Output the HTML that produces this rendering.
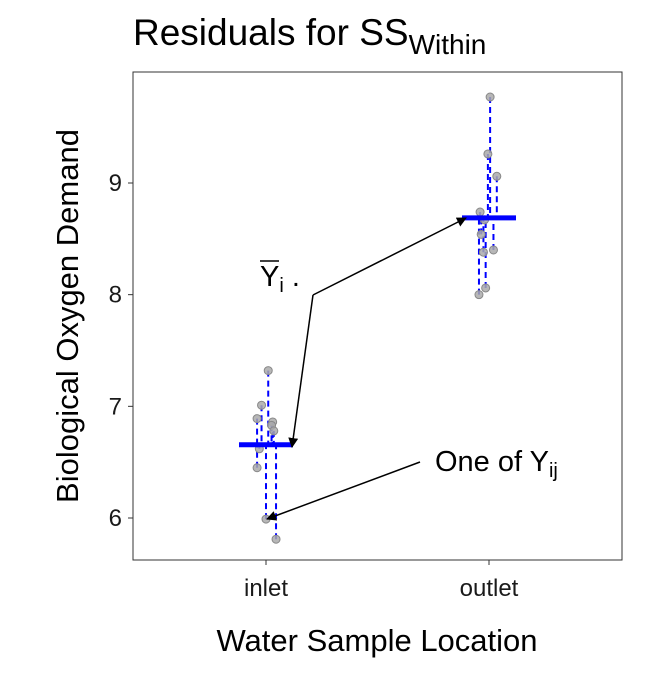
<!DOCTYPE html>
<html><head><meta charset="utf-8"><style>
body{margin:0;background:#fff}
svg{font-family:"Liberation Sans",sans-serif}
</style></head><body>
<svg id="chart" width="672" height="672">
<text x="133" y="45" font-size="37" fill="#000">Residuals for SS<tspan font-size="28" dy="9">Within</tspan></text>
<rect x="133" y="72" width="489" height="488" fill="none" stroke="#333" stroke-width="1"/>
<g id="marks"></g>
<g id="axes"></g>
<text transform="translate(78,316) rotate(-90)" text-anchor="middle" font-size="31">Biological Oxygen Demand</text>
<text x="377" y="651" text-anchor="middle" font-size="31">Water Sample Location</text>
<defs><marker id="ah" markerWidth="10" markerHeight="10" refX="9" refY="5" orient="auto" markerUnits="userSpaceOnUse"><path d="M0,0 L10,5 L0,10 z" fill="#000"/></marker></defs>
<polyline points="313,295 292,447" fill="none" stroke="#000" stroke-width="1.5" marker-end="url(#ah)"/>
<polyline points="313,295 466,218" fill="none" stroke="#000" stroke-width="1.5" marker-end="url(#ah)"/>
<polyline points="420,462 267,519" fill="none" stroke="#000" stroke-width="1.5" marker-end="url(#ah)"/>
<g>
<text x="260" y="286" font-size="29">Y<tspan font-size="20" dy="6">i</tspan><tspan dy="-6"> .</tspan></text>
<line x1="260" y1="261" x2="279" y2="261" stroke="#000" stroke-width="1.5"/>
</g>
<text x="435" y="471" font-size="29">One of Y<tspan font-size="20" dy="6">ij</tspan></text>
</svg>
<script>
const categories = ["inlet","outlet"];
const inletValues = [7.32,7.01,6.89,6.86,6.83,6.78,6.62,6.45,5.99,5.81];
const outletValues = [9.77,9.26,9.06,8.74,8.67,8.54,8.38,8.40,8.06,8.00];
const inletJitter = [0.01,-0.02,-0.04,0.03,0.025,0.035,-0.03,-0.04,0,0.045];
const outletJitter = [0.005,-0.005,0.035,-0.04,-0.02,-0.035,-0.025,0.02,-0.015,-0.045];
const yTicks = [6,7,8,9];
const ns="http://www.w3.org/2000/svg";
const y = v => 518 - (v-6)*111.67;
const x = i => 266 + i*223;
const bandPx = 223;
const marks=document.getElementById('marks'), axes=document.getElementById('axes');
function mk(tag,attrs,parent){const e=document.createElementNS(ns,tag);for(const k in attrs)e.setAttribute(k,attrs[k]);parent.appendChild(e);return e;}
[inletValues,outletValues].forEach((vals,ci)=>{
  const jit = ci===0?inletJitter:outletJitter;
  const mean = vals.reduce((a,b)=>a+b,0)/vals.length;
  vals.forEach((v,j)=>{
    const px = x(ci)+jit[j]*bandPx;
    const l = mk('line',{x1:px,x2:px,y1:y(v),y2:y(mean),stroke:'#0000ff','stroke-width':2,'stroke-dasharray':'6,4'},marks);
    
    
  });
  vals.forEach((v,j)=>{
    const px = x(ci)+jit[j]*bandPx;
    const c = mk('circle',{cx:px,cy:y(v),r:4,fill:'#aaa','fill-opacity':0.85,stroke:'#888','stroke-width':1},marks);
    
    
  });
  const m = mk('line',{x1:x(ci)-27,x2:x(ci)+27,y1:y(mean),y2:y(mean),stroke:'#0000ff','stroke-width':5},marks);
  
  
});
yTicks.forEach(t=>{
  const tk=mk('line',{x1:128,x2:133,y1:y(t),y2:y(t),stroke:'#333'},axes);
  
  
  const tl=mk('text',{x:122,y:y(t)+8,'text-anchor':'end','font-size':24,fill:'#1a1a1a'},axes);
  tl.textContent=t;
  
  
});
categories.forEach((c,i)=>{
  const tk=mk('line',{x1:x(i),x2:x(i),y1:560,y2:565,stroke:'#333'},axes);
  
  
  const tl=mk('text',{x:x(i),y:596,'text-anchor':'middle','font-size':24,fill:'#1a1a1a'},axes);
  tl.textContent=c;
  
  
});
</script>
</body></html>
